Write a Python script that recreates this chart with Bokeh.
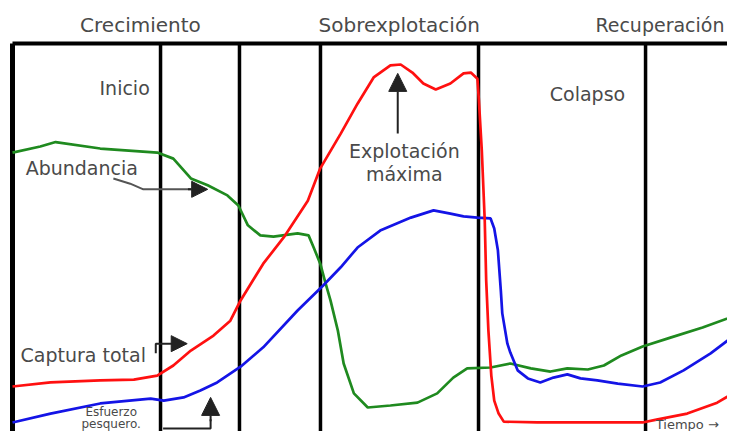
from bokeh.plotting import figure
from bokeh.models import Range1d, Arrow, NormalHead
from bokeh.core.properties import value
from bokeh.embed import file_html
from bokeh.resources import INLINE

# ---- data (time 0-100, relative level 0-100) ----
abund_t = [0, 3.8, 5.9, 12.0, 19.8, 22.0, 24.4, 26.7, 29.4, 30.9, 32.2, 33.9, 35.7, 39.0, 40.5,
           41.2, 42.1, 42.8, 43.5, 44.5, 45.3, 46.7, 48.6, 51.7, 55.4, 58.1, 60.3, 62.2, 65.4,
           68.1, 70.9, 73.6, 75.9, 78.7, 80.9, 83.3, 86.2, 90.0, 94.4, 100]
abund_v = [73.0, 74.5, 75.6, 74.0, 73.0, 71.5, 66.6, 64.9, 62.4, 59.9, 55.0, 52.5, 52.2, 53.0, 52.5,
           49.5, 45.5, 40.8, 36.4, 29.0, 20.8, 13.4, 9.9, 10.4, 11.1, 13.4, 17.3, 19.6, 19.8,
           20.8, 19.6, 18.8, 19.6, 19.3, 20.3, 22.8, 25.0, 27.2, 29.7, 33.4]

catch_t = [0, 5.2, 12.0, 16.6, 19.8, 22.0, 24.4, 27.5, 29.8, 31.2, 34.3, 37.1, 40.4, 42.1, 44.9,
           47.2, 49.4, 51.7, 53.1, 54.7, 56.2, 57.9, 59.9, 61.7, 62.7, 63.6, 63.8, 64.2, 64.6,
           64.8, 65.1, 65.5, 65.9, 66.5, 67.2, 71.8, 78.7, 86.2, 88.1, 92.3, 96.4, 100]
catch_v = [15.1, 16.1, 16.6, 16.8, 17.8, 20.3, 24.0, 27.7, 31.4, 36.4, 45.5, 52.0, 61.1, 69.1, 77.7,
           85.1, 91.6, 94.6, 94.8, 92.8, 90.1, 88.6, 90.1, 92.6, 92.8, 91.3, 85.9, 73.5, 56.2,
           41.3, 29.0, 17.8, 11.6, 8.4, 6.4, 6.2, 6.2, 6.2, 6.9, 8.4, 11.1, 14.9]

effort_t = [0, 5.2, 12.0, 18.9, 20.7, 23.4, 25.7, 28.0, 31.2, 34.3, 39.0, 42.5, 44.9, 47.2, 50.3,
            54.5, 57.6, 59.9, 61.7, 63.6, 65.4, 65.9, 66.4, 66.8, 67.0, 67.7, 68.1, 69.1, 70.5,
            72.2, 74.0, 75.9, 77.7, 80.0, 82.8, 86.2, 88.6, 91.8, 95.5, 98.2, 100]
effort_v = [6.2, 8.4, 10.9, 12.1, 11.6, 12.4, 14.1, 16.1, 20.0, 24.8, 33.9, 40.1, 44.6, 49.5, 53.7,
            56.9, 58.7, 57.9, 57.2, 56.9, 56.7, 54.2, 48.8, 38.9, 33.2, 25.7, 23.5, 19.1, 17.1,
            16.1, 17.3, 18.1, 17.1, 16.6, 15.8, 15.1, 16.1, 19.1, 23.3, 27.0, 28.5]

phase_bounds = [0, 20.25, 31.05, 42.13, 63.75, 86.6]
phase_names = ["Crecimiento", "Sobrexplotación", "Recuperación"]
phase_name_t = [17.5, 52.9, 97.4]
stage_names = ["Inicio", "Colapso"]
stage_t = [11.9, 73.5]
stage_v = [88.9, 87.4]

FONT = "DejaVu Sans"
TXT = "#4a4a4a"

p = figure(width=727, height=431, x_range=Range1d(-1.642, 97.81), y_range=Range1d(3.96, 110.64),
           output_backend="svg", toolbar_location=None, min_border=0,
           x_axis_location=None, y_axis_location=None)
p.grid.visible = False
p.outline_line_color = None
p.background_fill_color = "white"

# frame
p.segment(x0=[phase_bounds[0]], y0=[100], x1=[100], y1=[100], line_color="black", line_width=4)
p.segment(x0=[phase_bounds[0]], y0=[0], x1=[phase_bounds[0]], y1=[100], line_color="black", line_width=5)
p.segment(x0=phase_bounds[1:], y0=[0] * 5, x1=phase_bounds[1:], y1=[100] * 5,
          line_color="black", line_width=3.5)

# curves
p.line(abund_t, abund_v, line_color="#1f8a1f", line_width=2.7)
p.line(effort_t, effort_v, line_color="#1414e6", line_width=2.7)
p.line(catch_t, catch_v, line_color="#ff1010", line_width=2.7)

# texts
p.text(x=phase_name_t[:2], y=[104.5, 104.5], text=phase_names[:2], text_align="center",
       text_baseline="middle", text_font=value(FONT), text_font_size="20px", text_color=TXT)
p.text(x=phase_name_t[2:], y=[104.5], text=phase_names[2:], text_align="right",
       text_baseline="middle", text_font=value(FONT), text_font_size="19px", text_color=TXT)
p.text(x=stage_t, y=stage_v, text=stage_names, text_align="left", text_baseline="middle",
       text_font=value(FONT), text_font_size="19px", text_color=TXT)
p.text(x=[1.8, 1.1], y=[69.1, 22.8], text=["Abundancia", "Captura total"], text_align="left",
       text_baseline="middle", text_font=value(FONT), text_font_size="19px", text_color=TXT)
p.text(x=[53.6, 53.6], y=[73.5, 67.8], text=["Explotación", "máxima"], text_align="center",
       text_baseline="middle", text_font=value(FONT), text_font_size="19px", text_color=TXT)
p.text(x=[13.5, 13.5], y=[8.9, 5.7], text=["Esfuerzo", "pesquero."], text_align="center",
       text_baseline="middle", text_font=value(FONT), text_font_size="12px", text_color=TXT)
p.text(x=[88.0], y=[5.6], text=["Tiempo →"], text_align="left", text_baseline="middle",
       text_font=value(FONT), text_font_size="13px", text_color=TXT)

# arrows
AC = "#222222"
p.line([13.8, 16.1, 17.9, 24.5], [66.6, 65.3, 63.9, 63.9], line_color="#555555", line_width=2)
p.add_layout(Arrow(x_start=24.0, y_start=63.9, x_end=26.7, y_end=63.9, line_color=AC, line_width=2,
                   end=NormalHead(size=16, fill_color=AC, line_color=AC)))
p.line([19.6, 19.6, 22.5], [23.3, 25.7, 25.7], line_color=AC, line_width=2)
p.add_layout(Arrow(x_start=22.0, y_start=25.7, x_end=23.9, y_end=25.7, line_color=AC, line_width=2,
                   end=NormalHead(size=16, fill_color=AC, line_color=AC)))
p.line([20.6, 27.1, 27.1], [4.7, 4.7, 7.0], line_color=AC, line_width=2)
p.add_layout(Arrow(x_start=27.1, y_start=6.5, x_end=27.1, y_end=12.4, line_color=AC, line_width=2,
                   end=NormalHead(size=18, fill_color=AC, line_color=AC)))
p.add_layout(Arrow(x_start=52.7, y_start=77.7, x_end=52.7, y_end=92.6, line_color=AC, line_width=2,
                   end=NormalHead(size=18, fill_color=AC, line_color=AC)))

open("out.html", "w").write(file_html(p, INLINE))
